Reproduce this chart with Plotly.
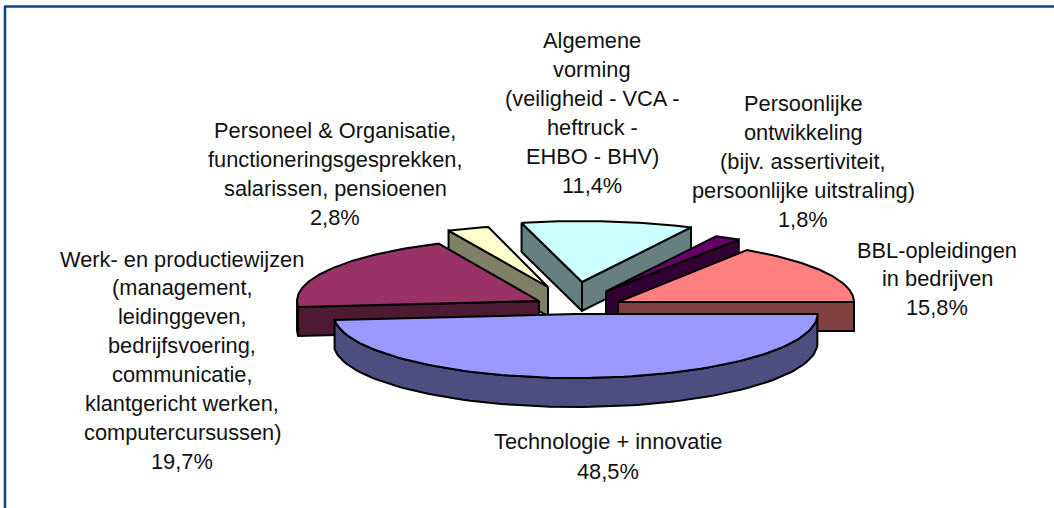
import numpy as np
import plotly.graph_objects as go

# ---- data (clockwise from 3 o'clock) ----
categories = [
    ["Technologie + innovatie"],
    ["Werk- en productiewijzen", "(management,", "leidinggeven,", "bedrijfsvoering,",
     "communicatie,", "klantgericht werken,", "computercursussen)"],
    ["Personeel & Organisatie,", "functioneringsgesprekken,", "salarissen, pensioenen"],
    ["Algemene", "vorming", "(veiligheid - VCA -", "heftruck -", "EHBO - BHV)"],
    ["Persoonlijke", "ontwikkeling", "(bijv. assertiviteit,", "persoonlijke uitstraling)"],
    ["BBL-opleidingen", "in bedrijven"],
]
values = [48.5, 19.7, 2.8, 11.4, 1.8, 15.8]

# ---- styling and layout of the exploded 3-D pie ----
top_colors = ["#9999FF", "#993366", "#FFFFCC", "#CCFFFF", "#660066", "#FF8080"]
side_colors = ["#4D4D80", "#4D1A33", "#808066", "#668080", "#330033", "#804040"]
apex_x = [575.5, 539, 548, 582, 606, 618]
apex_y = [314, 301, 287, 282, 291.5, 302]
radius_x = [242, 242, 240, 243, 243, 236]
radius_y = [64, 63, 62, 61, 62, 62]
label_x = [608, 182, 335, 592, 803, 937]
label_y = [441, 259, 130, 40, 103, 250]
line_gap = [30, 28.9, 29, 29, 29, 28.5]
draw_order = [2, 3, 4, 1, 5, 0]
depth = 29
start_angle = 90.0
font_size = 21.8
W, H = 1054, 508

fig = go.Figure()


def poly(xs, ys, fill):
    fig.add_trace(go.Scatter(
        x=xs, y=ys, mode="lines", fill="toself", fillcolor=fill,
        line=dict(color="black", width=2), hoverinfo="skip", showlegend=False))


edges = start_angle + np.cumsum([0] + values) * 3.6
for i in draw_order:
    t0, t1 = edges[i], edges[i + 1]
    th = np.radians(np.linspace(t0, t1, 90))
    ax, ay = apex_x[i], apex_y[i]
    ex = ax + radius_x[i] * np.sin(th)
    ey = ay - radius_y[i] * np.cos(th)
    # radial side faces that face the viewer
    if np.sin(np.radians(t0)) < 0:
        poly([ax, ex[0], ex[0], ax, ax], [ay, ey[0], ey[0] + depth, ay + depth, ay], side_colors[i])
    if np.sin(np.radians(t1)) > 0:
        poly([ax, ex[-1], ex[-1], ax, ax], [ay, ey[-1], ey[-1] + depth, ay + depth, ay], side_colors[i])
    # outer rim where it faces the viewer
    front = np.cos(th) < 0
    if front.sum() > 1:
        rx, ry = ex[front], ey[front]
        poly(np.r_[rx, rx[::-1], rx[0]], np.r_[ry, ry[::-1] + depth, ry[0]], side_colors[i])
    # top surface
    poly(np.r_[ax, ex, ax], np.r_[ay, ey, ay], top_colors[i])

annotations = []
for i, lines in enumerate(categories):
    pct = f"{values[i]:.1f}%".replace(".", ",")
    for k, txt in enumerate(lines + [pct]):
        annotations.append(dict(
            x=label_x[i], y=label_y[i] + k * line_gap[i], text=txt, showarrow=False,
            xanchor="center", yanchor="middle", xref="x", yref="y",
            font=dict(family="Liberation Sans", size=font_size, color="#111111")))

frame = dict(color="#0F4580", width=2.5)
shapes = [
    dict(type="line", xref="x", yref="y", x0=5, x1=5, y0=6.5, y1=H, line=frame, layer="above"),
    dict(type="line", xref="x", yref="y", x0=4, x1=W, y0=6.5, y1=6.5, line=frame, layer="above"),
]

fig.update_layout(
    width=W, height=H, margin=dict(l=0, r=0, t=0, b=0),
    paper_bgcolor="white", plot_bgcolor="white", showlegend=False,
    xaxis=dict(range=[0, W], visible=False, fixedrange=True),
    yaxis=dict(range=[H, 0], visible=False, fixedrange=True),
    annotations=annotations, shapes=shapes,
)
fig.write_html("out.html", config={"displayModeBar": False},
               post_script="document.body.style.margin='0';")
